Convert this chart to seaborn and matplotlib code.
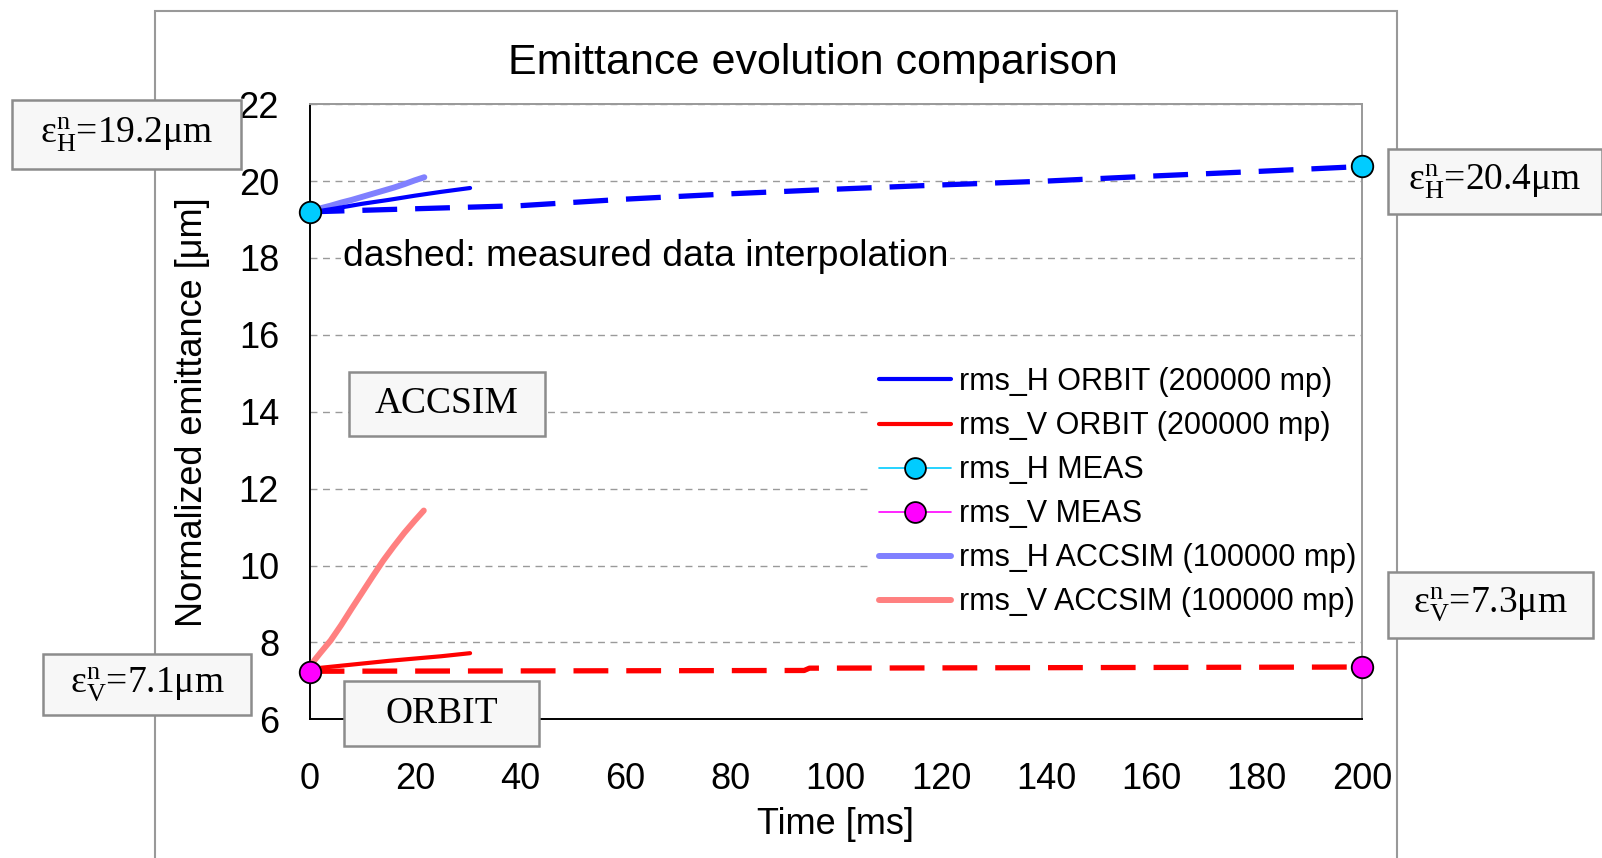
import matplotlib
matplotlib.use("Agg")
import matplotlib.pyplot as plt
import seaborn as sns
import pandas as pd
from matplotlib.lines import Line2D
from matplotlib.patches import Rectangle

# ---------------- data ----------------
orbit_h_t = [0, 5, 10, 15, 20, 25, 30.5]
orbit_h_e = [19.18, 19.29, 19.41, 19.51, 19.62, 19.72, 19.82]

orbit_v_t = [0, 5, 10, 15, 20, 25, 30.5]
orbit_v_e = [7.31, 7.38, 7.45, 7.52, 7.58, 7.64, 7.72]

accsim_h_t = [0, 2, 4, 6, 8, 10, 12, 14, 16, 18, 20, 21.8]
accsim_h_e = [19.22, 19.29, 19.36, 19.44, 19.51, 19.59, 19.67, 19.75, 19.83, 19.92, 20.02, 20.1]

accsim_v_t = [0, 1, 2, 4, 6, 8, 10, 12, 14, 16, 18, 20, 21.7]
accsim_v_e = [7.35, 7.55, 7.72, 8.05, 8.45, 8.88, 9.3, 9.72, 10.13, 10.5, 10.85, 11.17, 11.43]

meas_h_t = [0, 200]
meas_h_e = [19.2, 20.38]
meas_v_t = [0, 200]
meas_v_e = [7.24, 7.37]

interp_h_t = [0, 20, 40, 60, 80, 100, 120, 140, 160, 180, 200]
interp_h_e = [19.2, 19.28, 19.36, 19.53, 19.67, 19.79, 19.9, 20.0, 20.13, 20.25, 20.38]

interp_v_t = [0, 94, 95, 200]
interp_v_e = [7.25, 7.27, 7.33, 7.36]

legend_labels = ["rms_H ORBIT (200000 mp)", "rms_V ORBIT (200000 mp)",
                 "rms_H MEAS", "rms_V MEAS",
                 "rms_H ACCSIM (100000 mp)", "rms_V ACCSIM (100000 mp)"]

x_ticks = list(range(0, 201, 20))
y_ticks = list(range(6, 23, 2))

# ---------------- style ----------------
sns.set_style("white")
plt.rcParams["font.family"] = ["Liberation Sans", "DejaVu Sans"]
plt.rcParams["mathtext.fontset"] = "custom"
plt.rcParams["mathtext.rm"] = "Liberation Serif"
plt.rcParams["mathtext.it"] = "Liberation Serif:italic"
for k in ["text.color", "axes.labelcolor", "xtick.color", "ytick.color"]:
    plt.rcParams[k] = "black"

W, H = 1602, 858
fig = plt.figure(figsize=(W / 100, H / 100), dpi=100)
fig.patch.set_facecolor("white")

x0, x1, y0, y1 = 309.6, 1361.9, 104.2, 719.3
ax = fig.add_axes([x0 / W, 1 - y1 / H, (x1 - x0) / W, (y1 - y0) / H])

BLUE, RED = "#0000ff", "#ff0000"
CYAN, MAG = "#00ccff", "#ff00ff"
LBLUE, LRED = "#8080ff", "#ff8080"

dash = (0, (6.6, 3.4))

def line(t, e, **kw):
    df = pd.DataFrame({"t": t, "e": e})
    sns.lineplot(data=df, x="t", y="e", ax=ax, sort=False, estimator=None,
                 legend=False, **kw)

line(interp_v_t, interp_v_e, color=RED, lw=3.8, ls=dash, zorder=3)
line(interp_h_t, interp_h_e, color=BLUE, lw=3.8, ls=dash, zorder=3)
line(accsim_h_t, accsim_h_e, color=LBLUE, lw=4.3, zorder=4)
line(accsim_v_t, accsim_v_e, color=LRED, lw=4.3, zorder=4)
line(orbit_h_t, orbit_h_e, color=BLUE, lw=3.0, zorder=5)
line(orbit_v_t, orbit_v_e, color=RED, lw=3.0, zorder=5)

for t, e, c in [(meas_h_t, meas_h_e, CYAN), (meas_v_t, meas_v_e, MAG)]:
    df = pd.DataFrame({"t": t, "e": e})
    sns.scatterplot(data=df, x="t", y="e", ax=ax, color=c, s=240,
                    edgecolor="black", linewidth=1.3, zorder=6, clip_on=False,
                    legend=False)

ax.set_xlim(0, 200)
ax.set_ylim(6, 22)
ax.set_xticks(x_ticks)
ax.set_yticks(y_ticks)

ax.yaxis.grid(True, color="#9a9a9a", ls=(0, (5, 4)), lw=1.0)
ax.xaxis.grid(False)
ax.set_axisbelow(True)

for s in ["left", "bottom"]:
    ax.spines[s].set_color("black")
    ax.spines[s].set_linewidth(1.4)
for s in ["top", "right"]:
    ax.spines[s].set_color("#999999")
    ax.spines[s].set_linewidth(1.4)

ax.tick_params(axis="both", direction="out", length=9, width=1.2,
               colors="black", labelsize=26)
ax.tick_params(axis="x", pad=22)
ax.tick_params(axis="y", pad=13)

ax.set_xlabel("Time [ms]", fontsize=26)
ax.set_ylabel("Normalized emittance [μm]", fontsize=26)
ax.xaxis.set_label_coords(0.5, -0.142)
ax.yaxis.set_label_coords(-0.095, 0.5)

ax.text(6.3, 18.05, "dashed: measured data interpolation", fontsize=26.8,
        va="center", ha="left", zorder=2,
        bbox=dict(boxstyle="square,pad=0.05", fc="white", ec="none"))

# legend
handles = [
    Line2D([], [], color=BLUE, lw=3.0),
    Line2D([], [], color=RED, lw=3.0),
    Line2D([], [], color=CYAN, lw=1.2, marker="o", ms=15,
           mfc=CYAN, mec="black", mew=1.3),
    Line2D([], [], color=MAG, lw=1.2, marker="o", ms=15,
           mfc=MAG, mec="black", mew=1.3),
    Line2D([], [], color=LBLUE, lw=4.3),
    Line2D([], [], color=LRED, lw=4.3),
]
leg = ax.legend(handles, legend_labels, loc="upper left",
                bbox_to_anchor=(870 / W, 1 - 358 / H), bbox_transform=fig.transFigure,
                frameon=True, fancybox=False, facecolor="white", edgecolor="none",
                framealpha=1.0, fontsize=22, borderpad=0.3, borderaxespad=0,
                handlelength=2.36, handletextpad=0.25, labelspacing=0.46)
leg.set_zorder(2.2)

# title
fig.text(813 / W, 1 - 63 / H, "Emittance evolution comparison", fontsize=31,
         ha="center", va="center")

# outer chart frame
fig.add_artist(Rectangle((155 / W, -0.1), (1397 - 155) / W, 1.1 - 11 / H,
                         transform=fig.transFigure, fill=False,
                         ec="#999999", lw=1.5, zorder=1))

# annotation boxes (pixel bounds in the figure)
def box(px0, py0, px1, py1, text):
    fig.add_artist(Rectangle((px0 / W, 1 - py1 / H), (px1 - px0) / W, (py1 - py0) / H,
                             transform=fig.transFigure, fc="#f7f7f7",
                             ec="#8c8c8c", lw=1.8, zorder=8))
    fig.text((px0 + px1) / 2 / W, 1 - (py0 + py1) / 2 / H, text,
             fontsize=27, family="Liberation Serif", ha="center", va="center",
             zorder=9)

box(12, 100, 241, 169, r"$\mathrm{ε}^{\mathrm{n}}_{\mathrm{H}}$=19.2μm")
box(1388, 149, 1602, 214, r"$\mathrm{ε}^{\mathrm{n}}_{\mathrm{H}}$=20.4μm")
box(1388, 572, 1593, 638, r"$\mathrm{ε}^{\mathrm{n}}_{\mathrm{V}}$=7.3μm")
box(43, 654, 251, 715, r"$\mathrm{ε}^{\mathrm{n}}_{\mathrm{V}}$=7.1μm")
box(349, 372, 545, 436, "ACCSIM")
box(344, 681, 539, 746, "ORBIT")

fig.savefig("out.png", dpi=100)
